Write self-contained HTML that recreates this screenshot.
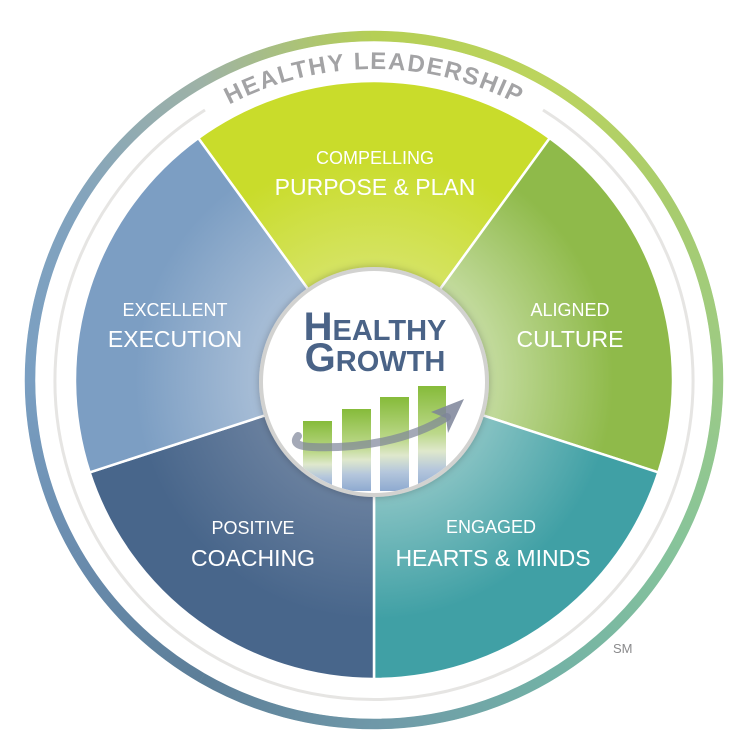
<!DOCTYPE html>
<html><head><meta charset="utf-8"><style>html,body{margin:0;padding:0;background:#fff}svg{display:block}</style></head>
<body>
<svg width="750" height="750" viewBox="0 0 750 750" xmlns="http://www.w3.org/2000/svg" font-family="Liberation Sans, sans-serif">
<defs>
<radialGradient id="gTop" gradientUnits="userSpaceOnUse" cx="374" cy="380" r="299"><stop offset="0.35" stop-color="#d6e468"/><stop offset="0.75" stop-color="#c9dc2b"/></radialGradient>
<radialGradient id="gUR" gradientUnits="userSpaceOnUse" cx="374" cy="380" r="299"><stop offset="0.35" stop-color="#c8dea6"/><stop offset="0.8" stop-color="#8fba4a"/></radialGradient>
<radialGradient id="gLR" gradientUnits="userSpaceOnUse" cx="374" cy="380" r="299"><stop offset="0.35" stop-color="#8ec6c6"/><stop offset="0.8" stop-color="#40a0a5"/></radialGradient>
<radialGradient id="gB" gradientUnits="userSpaceOnUse" cx="374" cy="380" r="299"><stop offset="0.35" stop-color="#6c82a0"/><stop offset="0.8" stop-color="#48668b"/></radialGradient>
<radialGradient id="gL" gradientUnits="userSpaceOnUse" cx="374" cy="380" r="299"><stop offset="0.35" stop-color="#abc0d8"/><stop offset="0.8" stop-color="#7c9ec3"/></radialGradient>
<linearGradient id="bar" x1="0" y1="0" x2="0" y2="1"><stop offset="0" stop-color="#86bb3a"/><stop offset="0.45" stop-color="#bcd88a"/><stop offset="0.62" stop-color="#dfe8cc"/><stop offset="0.8" stop-color="#b4c6dc"/><stop offset="1" stop-color="#8eaad0"/></linearGradient>
<clipPath id="cc"><circle cx="374" cy="382" r="111"/></clipPath>
<path id="tp" d="M 63,380 A 311 311 0 0 1 685,380"/>
<filter id="sh" x="-20%" y="-20%" width="140%" height="140%"><feDropShadow dx="0" dy="0" stdDeviation="4" flood-color="#000" flood-opacity="0.25"/></filter>
<linearGradient id="r0" gradientUnits="userSpaceOnUse" x1="374" y1="36" x2="546" y2="82.1"><stop offset="0" stop-color="#b5cf55"/><stop offset="1" stop-color="#bcd45e"/></linearGradient>
<linearGradient id="r1" gradientUnits="userSpaceOnUse" x1="546" y1="82.1" x2="671.9" y2="208"><stop offset="0" stop-color="#bcd45e"/><stop offset="1" stop-color="#a8cc6e"/></linearGradient>
<linearGradient id="r2" gradientUnits="userSpaceOnUse" x1="671.9" y1="208" x2="718" y2="380"><stop offset="0" stop-color="#a8cc6e"/><stop offset="1" stop-color="#9ccb86"/></linearGradient>
<linearGradient id="r3" gradientUnits="userSpaceOnUse" x1="718" y1="380" x2="671.9" y2="552"><stop offset="0" stop-color="#9ccb86"/><stop offset="1" stop-color="#86c39b"/></linearGradient>
<linearGradient id="r4" gradientUnits="userSpaceOnUse" x1="671.9" y1="552" x2="546" y2="677.9"><stop offset="0" stop-color="#86c39b"/><stop offset="1" stop-color="#72b1a6"/></linearGradient>
<linearGradient id="r5" gradientUnits="userSpaceOnUse" x1="546" y1="677.9" x2="374" y2="724"><stop offset="0" stop-color="#72b1a6"/><stop offset="1" stop-color="#6f98a8"/></linearGradient>
<linearGradient id="r6" gradientUnits="userSpaceOnUse" x1="374" y1="724" x2="202" y2="677.9"><stop offset="0" stop-color="#6f98a8"/><stop offset="1" stop-color="#5c7e98"/></linearGradient>
<linearGradient id="r7" gradientUnits="userSpaceOnUse" x1="202" y1="677.9" x2="76.1" y2="552"><stop offset="0" stop-color="#5c7e98"/><stop offset="1" stop-color="#6a8cae"/></linearGradient>
<linearGradient id="r8" gradientUnits="userSpaceOnUse" x1="76.1" y1="552" x2="30" y2="380"><stop offset="0" stop-color="#6a8cae"/><stop offset="1" stop-color="#7a9fc2"/></linearGradient>
<linearGradient id="r9" gradientUnits="userSpaceOnUse" x1="30" y1="380" x2="76.1" y2="208"><stop offset="0" stop-color="#7a9fc2"/><stop offset="1" stop-color="#82a3be"/></linearGradient>
<linearGradient id="r10" gradientUnits="userSpaceOnUse" x1="76.1" y1="208" x2="202" y2="82.1"><stop offset="0" stop-color="#82a3be"/><stop offset="1" stop-color="#9eb2a6"/></linearGradient>
<linearGradient id="r11" gradientUnits="userSpaceOnUse" x1="202" y1="82.1" x2="374" y2="36"><stop offset="0" stop-color="#9eb2a6"/><stop offset="1" stop-color="#b5cf55"/></linearGradient>
</defs>

<!-- outer ring -->
<circle cx="374" cy="380" r="344" fill="none" stroke="#8fb0a8" stroke-width="10"/>
<g fill="none" stroke-width="10.5">
<path d="M374,36 A344 344 0 0 1 546,82.1" stroke="url(#r0)"/>
<path d="M546,82.1 A344 344 0 0 1 671.9,208" stroke="url(#r1)"/>
<path d="M671.9,208 A344 344 0 0 1 718,380" stroke="url(#r2)"/>
<path d="M718,380 A344 344 0 0 1 671.9,552" stroke="url(#r3)"/>
<path d="M671.9,552 A344 344 0 0 1 546,677.9" stroke="url(#r4)"/>
<path d="M546,677.9 A344 344 0 0 1 374,724" stroke="url(#r5)"/>
<path d="M374,724 A344 344 0 0 1 202,677.9" stroke="url(#r6)"/>
<path d="M202,677.9 A344 344 0 0 1 76.1,552" stroke="url(#r7)"/>
<path d="M76.1,552 A344 344 0 0 1 30,380" stroke="url(#r8)"/>
<path d="M30,380 A344 344 0 0 1 76.1,208" stroke="url(#r9)"/>
<path d="M76.1,208 A344 344 0 0 1 202,82.1" stroke="url(#r10)"/>
<path d="M202,82.1 A344 344 0 0 1 374,36" stroke="url(#r11)"/>
</g>

<!-- gray ring -->
<path d="M 543,110 A 319 319 0 1 1 205,110" fill="none" stroke="#e6e5e3" stroke-width="3"/>

<text font-size="24" font-weight="bold" fill="#a3a3a5" letter-spacing="1.6"><textPath href="#tp" startOffset="50%" text-anchor="middle">HEALTHY LEADERSHIP</textPath></text>

<!-- wedges -->
<g stroke="#fff" stroke-width="2.5" stroke-linejoin="round">
<path d="M374,380 L198.3,138.1 A299 299 0 0 1 549.7,138.1 Z" fill="url(#gTop)"/>
<path d="M374,380 L549.7,138.1 A299 299 0 0 1 658.4,472.4 Z" fill="url(#gUR)"/>
<path d="M374,380 L658.4,472.4 A299 299 0 0 1 374,679 Z" fill="url(#gLR)"/>
<path d="M374,380 L374,679 A299 299 0 0 1 89.6,472.4 Z" fill="url(#gB)"/>
<path d="M374,380 L89.6,472.4 A299 299 0 0 1 198.3,138.1 Z" fill="url(#gL)"/>
</g>

<g fill="#fff" text-anchor="middle">
<text x="375" y="164" font-size="18">COMPELLING</text>
<text x="375" y="195" font-size="23">PURPOSE &amp; PLAN</text>
<text x="175" y="316" font-size="18">EXCELLENT</text>
<text x="175" y="347" font-size="23">EXECUTION</text>
<text x="570" y="316" font-size="18">ALIGNED</text>
<text x="570" y="347" font-size="23">CULTURE</text>
<text x="253" y="534" font-size="18">POSITIVE</text>
<text x="253" y="566" font-size="23">COACHING</text>
<text x="491" y="533" font-size="18">ENGAGED</text>
<text x="493" y="566" font-size="23">HEARTS &amp; MINDS</text>
</g>

<text x="613" y="653" font-size="13" fill="#8a8a8c">SM</text>

<!-- center circle -->
<circle cx="374" cy="382" r="113" fill="#fff" stroke="#d2d2d0" stroke-width="4" filter="url(#sh)"/>
<g clip-path="url(#cc)">
<rect x="303" y="421" width="29" height="70" fill="url(#bar)"/>
<rect x="342" y="409" width="29" height="82" fill="url(#bar)"/>
<rect x="380" y="397" width="29" height="94" fill="url(#bar)"/>
<rect x="418" y="386" width="28" height="105" fill="url(#bar)"/>
</g>
<g fill="none" stroke="#7d8499" stroke-opacity="0.7" stroke-linecap="round">
<path d="M 298,436 Q 290,446 312,447 C 360,449 410,440 447,417" stroke-width="8"/>
</g>
<polygon points="464,399 431,412 446,418 448,433" fill="#7d8499" fill-opacity="0.85"/>

<g fill="#4a6387" font-weight="bold" text-anchor="middle">
<text x="375" y="340"><tspan font-size="40">H</tspan><tspan font-size="29">EALTHY</tspan></text>
<text x="375" y="371"><tspan font-size="40">G</tspan><tspan font-size="29">ROWTH</tspan></text>
</g>
</svg>
</body></html>
